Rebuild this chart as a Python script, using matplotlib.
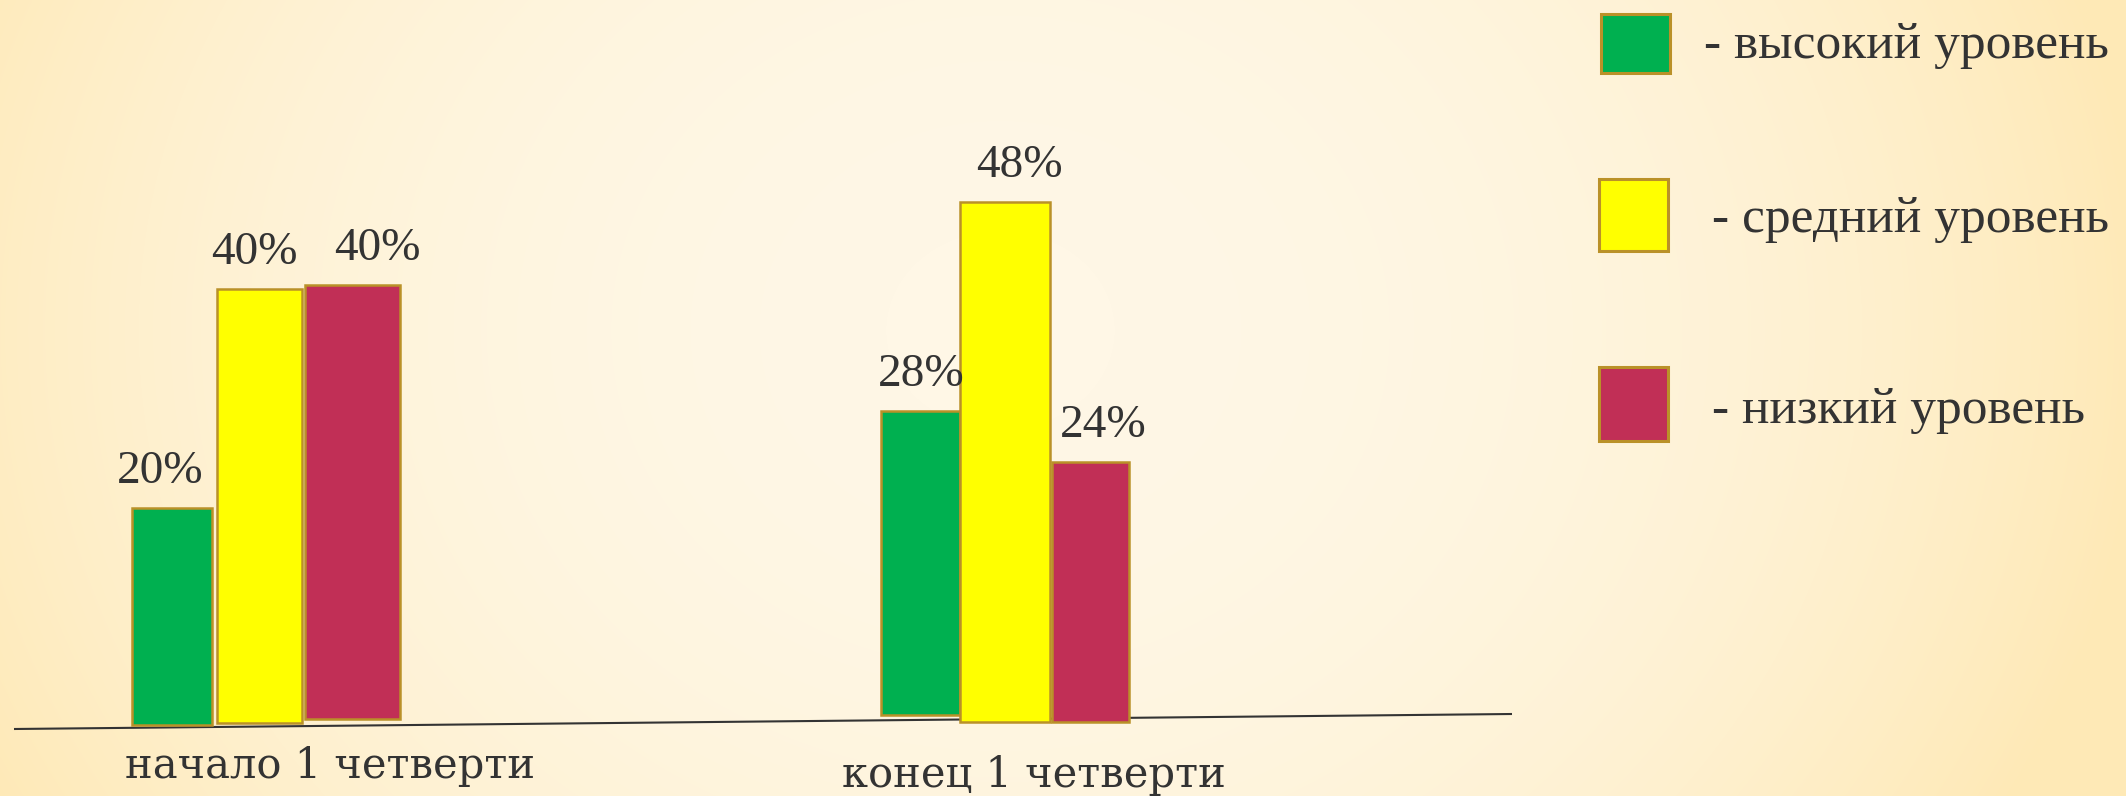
import numpy as np
import matplotlib.pyplot as plt
from matplotlib.colors import LinearSegmentedColormap

W, H = 2126, 796

# data
groups = ['начало 1 четверти', 'конец 1 четверти']
levels = ['- высокий уровень', '- средний уровень', '- низкий уровень']
level_colors = ['#00B050', '#FFFF00', '#C12F56']
start_values = [20, 40, 40]
end_values = [28, 48, 24]

# layout (pixels)
S = 10.84          # px per percent
BASE = 721         # pixel row of 0 %
bar_left = [[132, 217, 305], [881, 960, 1052]]
bar_width = [[80, 85, 95], [79, 90, 77]]
bar_bottom_px = [[725, 723, 719], [715, 722, 722]]
label_dx = [[-12, -5, 25], [1, 14, 13]]
group_label_xy = [(330, 778), (1034, 787)]
legend_boxes = [(1601, 14, 69, 59), (1599, 179, 69, 72), (1599, 367, 69, 74)]
legend_text_xy = [(1704, 58), (1712, 232), (1712, 423)]

edge = '#BA9128'
text_col = '#333333'

fig = plt.figure(figsize=(W / 100, H / 100), dpi=100)

# background gradient
bg = fig.add_axes([0, 0, 1, 1])
yy, xx = np.mgrid[0:H, 0:W]
d = np.sqrt(((xx - 1000) / 1150.0) ** 2 + ((yy - 330) / 1000.0) ** 2)
d = np.clip(d, 0, 1) ** 2.4
cmap = LinearSegmentedColormap.from_list('bg', ['#FFF7E6', '#FEE9B6'])
bg.imshow(d, cmap=cmap, vmin=0, vmax=1, extent=(0, W, H, 0), aspect='auto')
bg.set_xlim(0, W)
bg.set_ylim(H, 0)
bg.axis('off')

# baseline
bg.plot([14, 1512], [729, 714], color=text_col, lw=1.5, solid_capstyle='butt')

# bars
ax = fig.add_axes([0, 0, 1, 1])
ax.patch.set_alpha(0)
ax.set_xlim(0, W)
ax.set_ylim((BASE - H) / S, BASE / S)
ax.axis('off')

for g, vals in enumerate([start_values, end_values]):
    bottoms = [(BASE - b) / S for b in bar_bottom_px[g]]
    ax.bar(bar_left[g], vals, width=bar_width[g], bottom=bottoms, align='edge',
           color=level_colors, edgecolor=edge, linewidth=1.8)
    for i, v in enumerate(vals):
        cx = bar_left[g][i] + bar_width[g][i] / 2 + label_dx[g][i]
        ax.text(cx, bottoms[i] + v + 25 / S, f'{v}%', ha='center', va='baseline',
                fontsize=34, family='Liberation Serif', color=text_col)
    bg.text(group_label_xy[g][0], group_label_xy[g][1], groups[g], ha='center',
            va='baseline', fontsize=30, family='DejaVu Serif', color=text_col)

# legend
for (x, y, w, h), (tx, ty), lab, c in zip(legend_boxes, legend_text_xy, levels, level_colors):
    bg.add_patch(plt.Rectangle((x, y), w, h, facecolor=c, edgecolor=edge, lw=2.2))
    bg.text(tx, ty, lab, ha='left', va='baseline', fontsize=37,
            family='Liberation Serif', color=text_col)

fig.savefig('out.png', dpi=100)
